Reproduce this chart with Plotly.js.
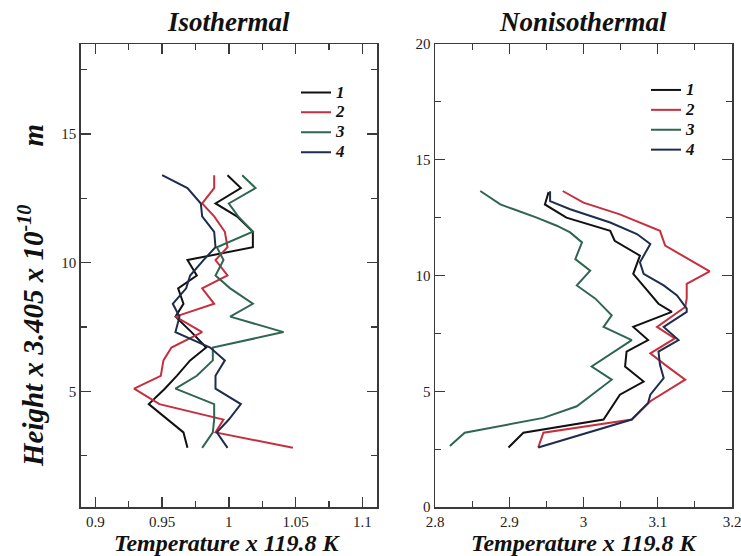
<!DOCTYPE html>
<html>
<head>
<meta charset="utf-8">
<script src="https://cdn.plot.ly/plotly-3.0.1.min.js"></script>
<style>
  html, body { margin: 0; padding: 0; background: #fff; }
  #chart { width: 741px; height: 556px; }
</style>
</head>
<body>
<div id="chart"></div>
<script>
// ---- Isothermal run: temperature profiles on a shared height grid ----
const isoHeights = [13.4, 12.9, 12.3, 11.8, 11.2, 10.6, 10.1, 9.5, 9.0, 8.4, 7.9, 7.3, 6.7, 6.2, 5.6, 5.1, 4.5, 3.9, 3.4, 2.8];
const iso1 = [0.999, 1.009, 0.990, 1.006, 1.018, 1.018, 0.969, 0.976, 0.962, 0.966, 0.960, 0.972, 0.983, 0.971, 0.961, 0.952, 0.940, 0.954, 0.966, 0.969];
const iso2 = [0.989, 0.989, 0.980, 0.989, 0.997, 0.999, 0.990, 0.999, 0.980, 0.989, 0.960, 0.980, 0.957, 0.951, 0.949, 0.929, 0.948, 0.996, 0.990, 1.048];
const iso3 = [1.010, 1.020, 1.000, 1.007, 1.018, 0.991, 0.996, 0.990, 1.001, 1.018, 1.001, 1.041, 0.988, 0.988, 0.976, 0.960, 0.989, 0.989, 0.988, 0.980];
const iso4 = [0.950, 0.969, 0.979, 0.980, 0.989, 0.990, 0.981, 0.971, 0.968, 0.958, 0.963, 0.960, 0.986, 0.997, 0.990, 0.990, 1.009, 1.000, 0.991, 0.999];

// ---- Nonisothermal run: each profile with its own heights ----
const non1T = [2.953, 2.948, 2.977, 3.036, 3.042, 3.076, 3.067, 3.101, 3.119, 3.067, 3.087, 3.058, 3.056, 3.081, 3.049, 3.027, 2.919, 2.899];
const non1H = [13.6, 13.07, 12.5, 11.93, 11.5, 10.86, 10.07, 8.78, 8.43, 7.78, 7.21, 6.71, 6.07, 5.42, 4.85, 3.78, 3.21, 2.57];
const non2T = [2.972, 3.000, 3.049, 3.103, 3.110, 3.170, 3.139, 3.139, 3.137, 3.099, 3.123, 3.090, 3.110, 3.137, 3.090, 3.065, 2.946, 2.939];
const non2H = [13.65, 13.15, 12.64, 11.93, 11.29, 10.18, 9.64, 9.0, 8.64, 7.78, 7.28, 6.64, 6.14, 5.5, 4.57, 3.78, 3.21, 2.57];
const non3T = [2.861, 2.888, 2.906, 2.937, 2.964, 2.982, 2.998, 2.989, 3.009, 2.991, 3.016, 3.031, 3.038, 3.027, 3.065, 3.011, 3.038, 2.991, 2.946, 2.840, 2.820];
const non3H = [13.65, 13.07, 12.86, 12.5, 12.15, 11.86, 11.43, 10.71, 10.21, 9.57, 9.0, 8.5, 8.28, 7.78, 7.21, 6.07, 5.5, 4.35, 3.85, 3.21, 2.64];
const non4T = [2.955, 2.955, 2.982, 3.036, 3.072, 3.090, 3.076, 3.081, 3.108, 3.126, 3.139, 3.139, 3.108, 3.128, 3.101, 3.103, 3.108, 3.090, 3.087, 3.065, 2.939];
const non4H = [13.64, 13.21, 12.86, 12.29, 11.79, 11.36, 10.57, 10.07, 9.57, 9.14, 8.57, 8.43, 7.78, 7.21, 6.71, 6.14, 5.57, 4.85, 4.49, 3.78, 2.57];

// ---- labels and ticks ----
const seriesNames = ['1', '2', '3', '4'];
const seriesColors = ['#111111', '#c62f3d', '#2f6650', '#1d2d4e'];
const isoXTicks = [0.9, 0.95, 1, 1.05, 1.1];
const isoXTickText = ['0.9', '0.95', '1', '1.05', '1.1'];
const isoXMinor = [0.925, 0.975, 1.025, 1.075];
const nonXTicks = [2.8, 2.9, 3, 3.1, 3.2];
const nonXTickText = ['2.8', '2.9', '3', '3.1', '3.2'];
const nonXMinor = [2.85, 2.95, 3.05, 3.15];
const isoYTicks = [5, 10, 15];
const nonYTicks = [0, 5, 10, 15, 20];
const yMinor = [2.5, 7.5, 12.5, 17.5];

const SERIF = 'Liberation Serif, Times New Roman, serif';
const AXIS_COLOR = '#3a3a3a';
const NBSP = '\u00A0';

// legend rows are packed tightly: a small base font sets the row pitch,
// the label itself is drawn larger
const legendLabel = s => '<span style="font-size:17px">' + s + '</span>';

const isoSets = [iso1, iso2, iso3, iso4];
const nonSets = [[non1T, non1H], [non2T, non2H], [non3T, non3H], [non4T, non4H]];

const traces = [];
isoSets.forEach((vals, i) => {
  traces.push({
    x: vals, y: isoHeights, type: 'scatter', mode: 'lines',
    name: legendLabel(seriesNames[i]), legend: 'legend',
    line: { color: seriesColors[i], width: 2 },
    xaxis: 'x', yaxis: 'y'
  });
});
nonSets.forEach((pair, i) => {
  traces.push({
    x: pair[0], y: pair[1], type: 'scatter', mode: 'lines',
    name: legendLabel(seriesNames[i]), legend: 'legend2',
    line: { color: seriesColors[i], width: 2 },
    xaxis: 'x2', yaxis: 'y2'
  });
});

const W = 741, H = 556;
const px = v => v / W;
const py = v => (H - v) / H;

function frameAxis(extra) {
  return Object.assign({
    showgrid: false, zeroline: false,
    showline: true, linecolor: AXIS_COLOR, linewidth: 1.5,
    mirror: 'ticks', ticks: 'inside', ticklen: 10, tickwidth: 1.3, tickcolor: AXIS_COLOR,
    tickmode: 'array', automargin: false, fixedrange: true,
    ticklabeloverflow: 'allow',
    tickfont: { family: SERIF, size: 15, color: '#222' }
  }, extra);
}
function minorTicks(vals) {
  return { tickmode: 'array', tickvals: vals, ticks: 'inside', ticklen: 6, tickwidth: 1.2, tickcolor: AXIS_COLOR, showgrid: false };
}

const yDomain = [py(507), py(44)];

const titleFont = { family: SERIF, size: 27, color: '#111', weight: 'bold', style: 'italic' };
const axisTitleFont = { family: SERIF, size: 24, color: '#111', weight: 'bold', style: 'italic' };
const heightTitleFont = { family: SERIF, size: 29, color: '#111', weight: 'bold', style: 'italic' };
const legendFont = { family: SERIF, size: 13, color: '#111', weight: 'bold', style: 'italic' };

const layout = {
  width: W, height: H,
  margin: { l: 0, r: 0, t: 0, b: 0 },
  paper_bgcolor: '#fff', plot_bgcolor: '#fff',
  showlegend: true,
  xaxis: frameAxis({ domain: [px(80.7), px(377)], range: [0.889, 1.111], anchor: 'y',
    tickvals: isoXTicks, ticktext: isoXTickText, minor: minorTicks(isoXMinor) }),
  yaxis: frameAxis({ domain: yDomain, range: [0.5, 18.5], anchor: 'x',
    tickvals: isoYTicks, ticktext: isoYTicks.map(String), minor: minorTicks(yMinor) }),
  xaxis2: frameAxis({ domain: [px(435), px(732)], range: [2.8, 3.2], anchor: 'y2',
    tickvals: nonXTicks, ticktext: nonXTickText, minor: minorTicks(nonXMinor) }),
  yaxis2: frameAxis({ domain: yDomain, range: [0, 20], anchor: 'x2',
    tickvals: nonYTicks, ticktext: nonYTicks.map(String), minor: minorTicks(yMinor) }),
  legend: {
    x: px(296), y: py(77.5), xanchor: 'left', yanchor: 'top',
    bgcolor: 'rgba(0,0,0,0)', borderwidth: 0, font: legendFont,
    tracegroupgap: 0, itemwidth: 30
  },
  legend2: {
    x: px(646), y: py(75), xanchor: 'left', yanchor: 'top',
    bgcolor: 'rgba(0,0,0,0)', borderwidth: 0, font: legendFont,
    tracegroupgap: 0, itemwidth: 30
  },
  annotations: [
    { text: 'Isothermal', xref: 'paper', yref: 'paper', x: px(228), y: py(22),
      xanchor: 'center', yanchor: 'middle', showarrow: false, font: titleFont },
    { text: 'Nonisothermal', xref: 'paper', yref: 'paper', x: px(583), y: py(22),
      xanchor: 'center', yanchor: 'middle', showarrow: false, font: titleFont },
    { text: 'Temperature x 119.8 K', xref: 'paper', yref: 'paper', x: px(227), y: py(543),
      xanchor: 'center', yanchor: 'middle', showarrow: false, font: axisTitleFont },
    { text: 'Temperature x 119.8 K', xref: 'paper', yref: 'paper', x: px(584), y: py(543),
      xanchor: 'center', yanchor: 'middle', showarrow: false, font: axisTitleFont },
    { text: 'Height x 3.405 x 10<sup>-10</sup>' + NBSP.repeat(8) + 'm', xref: 'paper', yref: 'paper',
      x: px(31), y: py(296), xanchor: 'center', yanchor: 'middle', textangle: -90,
      showarrow: false, font: heightTitleFont }
  ]
};

Plotly.newPlot('chart', traces, layout, { staticPlot: true, displayModeBar: false });
</script>
</body>
</html>
